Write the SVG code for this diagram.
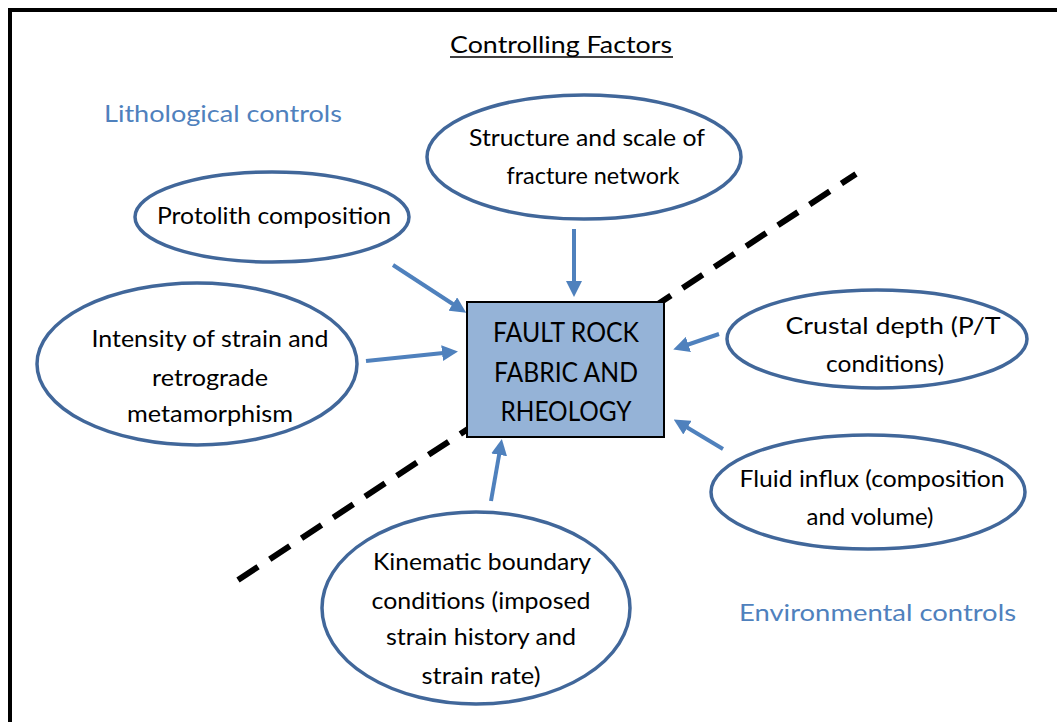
<svg xmlns="http://www.w3.org/2000/svg" width="1057" height="722" viewBox="0 0 1057 722">
  <style>
    .t { font-family: Lato, "Open Sans", "Liberation Sans", sans-serif; font-size: 24px; fill: #000; text-anchor: middle; }
    .big { font-size: 26px; }
    .ctl { font-family: Lato, "Open Sans", "Liberation Sans", sans-serif; font-size: 24px; fill: #4F81BD; }
    .oval { fill: #fff; stroke: #41679A; stroke-width: 3.5; }
    .arrow { stroke: #4F81BD; stroke-width: 4; fill: none; marker-end: url(#head); }
  </style>
  <defs>
    <marker id="head" markerUnits="userSpaceOnUse" markerWidth="16" markerHeight="16" refX="11" refY="8" orient="auto">
      <path d="M0,0 L16,8 L0,16 z" fill="#4F81BD"/>
    </marker>
  </defs>

  <rect width="1057" height="722" fill="#fff"/>
  <!-- frame -->
  <path d="M10,722 V10 H1057" fill="none" stroke="#000" stroke-width="4"/>

  <!-- title and zone labels -->
  <text x="561" y="53" class="t" textLength="222" lengthAdjust="spacingAndGlyphs">Controlling Factors</text>
  <line x1="450" y1="57" x2="673" y2="57" stroke="#000" stroke-width="1.6"/>
  <text x="104" y="122" class="ctl" textLength="238" lengthAdjust="spacingAndGlyphs">Lithological controls</text>
  <text x="739" y="621" class="ctl" textLength="277" lengthAdjust="spacingAndGlyphs">Environmental controls</text>

  <!-- dividing line behind the central box -->
  <line x1="238" y1="580" x2="856" y2="174" stroke="#000" stroke-width="6" stroke-dasharray="24,14"/>

  <g id="connectors">
    <line class="arrow" x1="393" y1="265" x2="462" y2="310"/>
    <line class="arrow" x1="366" y1="361" x2="453" y2="352"/>
    <line class="arrow" x1="574" y1="229" x2="574" y2="292"/>
    <line class="arrow" x1="719" y1="334" x2="678" y2="348"/>
    <line class="arrow" x1="723" y1="449" x2="678" y2="422"/>
    <line class="arrow" x1="491" y1="501" x2="501" y2="444"/>
  </g>

  <g id="fault-rock">
    <rect x="467" y="302" width="197" height="135" fill="#95B3D7" stroke="#000" stroke-width="2"/>
    <text x="566" y="342" class="t big" textLength="146" lengthAdjust="spacingAndGlyphs">FAULT ROCK</text>
    <text x="566" y="382" class="t big" textLength="144" lengthAdjust="spacingAndGlyphs">FABRIC AND</text>
    <text x="566" y="421" class="t big" textLength="131" lengthAdjust="spacingAndGlyphs">RHEOLOGY</text>
  </g>

  <g id="fracture-network">
    <ellipse class="oval" cx="584" cy="157" rx="157" ry="62"/>
    <text x="587" y="146" class="t" textLength="236" lengthAdjust="spacingAndGlyphs">Structure and scale of</text>
    <text x="593" y="184" class="t" textLength="173" lengthAdjust="spacingAndGlyphs">fracture network</text>
  </g>

  <g id="protolith">
    <ellipse class="oval" cx="272" cy="217" rx="137" ry="45"/>
    <text x="274" y="224" class="t" textLength="234" lengthAdjust="spacingAndGlyphs">Protolith composition</text>
  </g>

  <g id="strain-intensity">
    <ellipse class="oval" cx="197" cy="364" rx="160" ry="81"/>
    <text x="210" y="347" class="t" textLength="237" lengthAdjust="spacingAndGlyphs">Intensity of strain and</text>
    <text x="210" y="386" class="t" textLength="116" lengthAdjust="spacingAndGlyphs">retrograde</text>
    <text x="210" y="422" class="t" textLength="166" lengthAdjust="spacingAndGlyphs">metamorphism</text>
  </g>

  <g id="crustal-depth">
    <ellipse class="oval" cx="877" cy="339" rx="150" ry="49"/>
    <text x="893" y="334" class="t" textLength="215" lengthAdjust="spacingAndGlyphs">Crustal depth (P/T</text>
    <text x="885" y="372" class="t" textLength="118" lengthAdjust="spacingAndGlyphs">conditions)</text>
  </g>

  <g id="fluid-influx">
    <ellipse class="oval" cx="868" cy="492" rx="157" ry="57"/>
    <text x="872" y="487" class="t" textLength="265" lengthAdjust="spacingAndGlyphs">Fluid influx (composition</text>
    <text x="870" y="525" class="t" textLength="127" lengthAdjust="spacingAndGlyphs">and volume)</text>
  </g>

  <g id="kinematic">
    <ellipse class="oval" cx="476" cy="608" rx="154" ry="96"/>
    <text x="482" y="570" class="t" textLength="218" lengthAdjust="spacingAndGlyphs">Kinematic boundary</text>
    <text x="481" y="609" class="t" textLength="219" lengthAdjust="spacingAndGlyphs">conditions (imposed</text>
    <text x="481" y="645" class="t" textLength="190" lengthAdjust="spacingAndGlyphs">strain history and</text>
    <text x="481" y="684" class="t" textLength="119" lengthAdjust="spacingAndGlyphs">strain rate)</text>
  </g>
</svg>
